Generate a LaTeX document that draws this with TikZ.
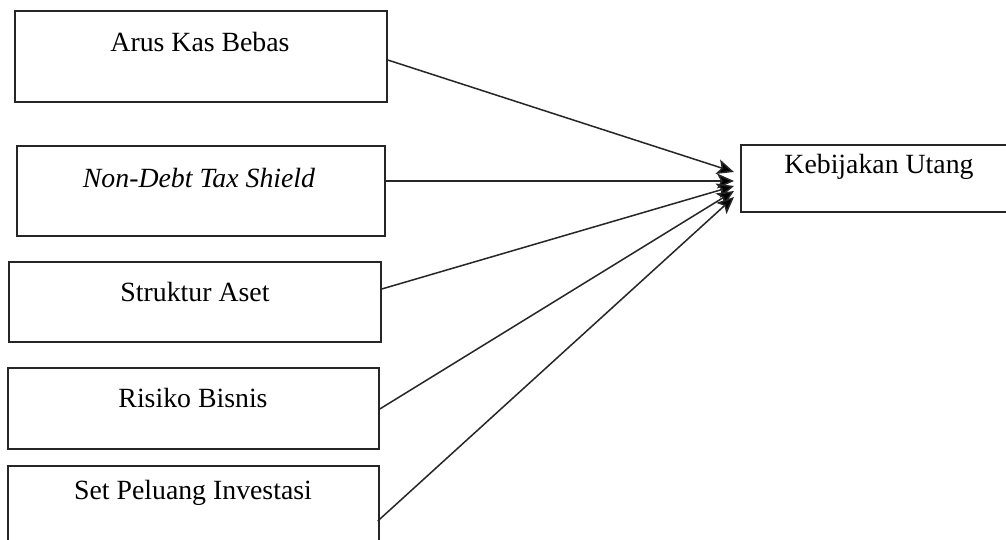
\documentclass[tikz,border=0pt]{standalone}
\usepackage{fontspec}
\setmainfont{Liberation Serif}
\usetikzlibrary{arrows.meta}
\begin{document}
\begin{tikzpicture}[x=1pt,y=-1pt,
  varbox/.style={draw=black!85, line width=1.5pt, rectangle, inner sep=0pt},
  lbl/.style={font=\fontsize{27.8}{33}\selectfont, inner sep=0pt, text=black},
  arr/.style={draw=black!85, line width=1.5pt, -{Stealth[length=17pt,width=15pt,inset=4pt,fill=black]}}]
\path[use as bounding box, clip] (0,0) rectangle (1006,540);
\fill[white] (0,0) rectangle (1006,540);
% boxes
\node[varbox, minimum width=372pt, minimum height=91pt] (b1) at (201,56.5) {};
\node[varbox, minimum width=368pt, minimum height=90pt] (b2) at (201,191) {};
\node[varbox, minimum width=372pt, minimum height=80pt] (b3) at (195,302) {};
\node[varbox, minimum width=371pt, minimum height=81pt] (b4) at (193.5,408.5) {};
\node[varbox, minimum width=371pt, minimum height=100pt] (b5) at (193.5,516) {};
\node[varbox, minimum width=276pt, minimum height=67pt] (k) at (879,178.5) {};
% labels
\node[lbl] (l1) at (200,42) {Arus Kas Bebas};
\node[lbl] (l2) at (199,178) {\itshape Non-Debt Tax Shield};
\node[lbl] (l3) at (195,292) {Struktur Aset};
\node[lbl] (l4) at (193,398) {Risiko Bisnis};
\node[lbl] (l5) at (193,493) {Set Peluang Investasi};
\node[lbl] (lk) at (879,167) {Kebijakan Utang};
% arrow tips
\coordinate (t1) at (734,172);
\coordinate (t2) at (734,181);
\coordinate (t3) at (734,186);
\coordinate (t4) at (734,191);
\coordinate (t5) at (734,197);
\draw[arr] (b1.east |- 0,60) -- (t1);
\draw[arr] (b2.east |- 0,181) -- (t2);
\draw[arr] (b3.east |- 0,289) -- (t3);
\draw[arr] (b4.east |- 0,409) -- (t4);
\draw[arr] ([xshift=-2pt]b5.east |- 0,521) -- (t5);
\end{tikzpicture}
\end{document}
